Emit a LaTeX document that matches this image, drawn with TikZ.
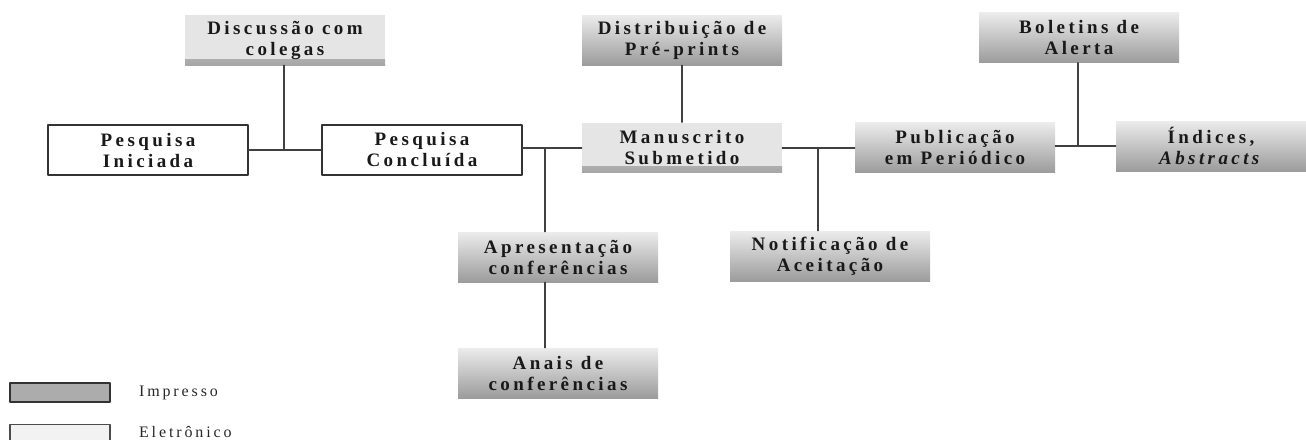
\documentclass[tikz,border=0pt]{standalone}
\usepackage{fontspec}
\newfontfamily\spfont[LetterSpace=18]{Liberation Serif}
\usepackage{tikz}
\usetikzlibrary{positioning,calc}

\begin{document}
\begin{tikzpicture}[line cap=round,line join=round,x=0.5pt,y=-0.5pt,
  box/.style={minimum width=100pt,minimum height=25pt,inner sep=1pt,align=center,
    text=black!90,font=\spfont\bfseries\fontsize{9.5}{10.5}\selectfont},
  plain/.style={box,draw=black!80,line width=0.7pt},
  impresso/.style={box,top color=gray!15,middle color=gray!30,bottom color=gray!78},
  eletronico/.style={box,fill=gray!20,path picture={
    \shade[top color=gray!20,bottom color=gray!70]
      ([yshift=3pt]path picture bounding box.south west) rectangle (path picture bounding box.south east);}},
  link/.style={draw=black!75,line width=0.8pt},
  legtext/.style={anchor=west,text=black!85,font=\spfont\fontsize{8}{9}\selectfont}]
\useasboundingbox (0,0) rectangle (1306,439);

% caixas
\node[eletronico] (disc) at (285,40) {Discussão com\\colegas};
\node[plain] (ini) at (148,150) {Pesquisa\\Iniciada};
\node[plain] (conc) at (422,150) {Pesquisa\\Concluída};
\node[impresso] (dist) at (682,40) {Distribuição de\\Pré-prints};
\node[eletronico] (manu) at (682,147.5) {Manuscrito\\Submetido};
\node[impresso] (publ) at (955,147.5) {Publicação\\em Periódico};
\node[impresso] (bol) at (1079,37.5) {Boletins de\\Alerta};
\node[impresso,minimum width=95pt] (ind) at (1211,146) {Índices,\\\textit{Abstracts}};
\node[impresso] (apr) at (558,257) {Apresentação\\conferências};
\node[impresso] (anais) at (558,373) {Anais de\\conferências};
\node[impresso] (notif) at (830,256) {Notificação de\\Aceitação};

% ligacoes
\coordinate (j1) at (284,150);
\coordinate (j2) at (545,148);
\coordinate (j3) at (818,148);
\coordinate (j4) at (1078,146);
\draw[link] (ini.east) -- (conc.west);
\draw[link] (j1) -- (j1 |- disc.south);
\draw[link] (conc.east |- j2) -- (manu.west |- j2);
\draw[link] (j2) -- (j2 |- apr.north);
\draw[link] (j2 |- apr.south) -- (j2 |- anais.north);
\draw[link] (manu.north) -- (dist.south);
\draw[link] (manu.east |- j3) -- (publ.west |- j3);
\draw[link] (j3) -- (j3 |- notif.north);
\draw[link] (publ.east |- j4) -- (ind.west |- j4);
\draw[link] (j4) -- (j4 |- bol.south);

% legenda
\node[draw=black!80,line width=0.6pt,fill=gray!65,minimum width=50pt,minimum height=9.5pt,inner sep=0pt] (limp) at (60,392.5) {};
\node[draw=black!70,line width=0.6pt,fill=gray!10,minimum width=50pt,minimum height=9.5pt,inner sep=0pt] (lele) at (60,434) {};
\node[legtext] (timp) at (132,392.5) {Impresso};
\node[legtext] (tele) at (132,432) {Eletrônico};
\end{tikzpicture}
\end{document}
